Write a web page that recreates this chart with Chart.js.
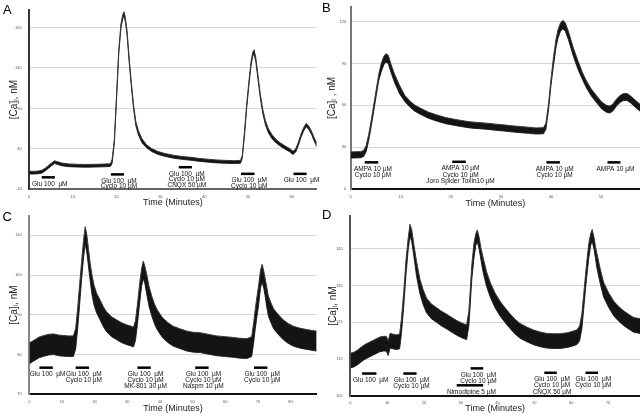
<!DOCTYPE html>
<html><head><meta charset="utf-8">
<script src="https://cdn.jsdelivr.net/npm/chart.js@4.4.1/dist/chart.umd.min.js"></script>
<style>
html,body{margin:0;padding:0;background:#fff;}
body{width:640px;height:417px;position:relative;overflow:hidden;font-family:"Liberation Sans",Arial,sans-serif;}
.pane{position:absolute;}
.letter{position:absolute;font-size:13px;line-height:13px;color:#000;z-index:2;font-family:"Liberation Sans",Arial,sans-serif;}
</style></head>
<body>
<canvas id="cA" class="pane" width="320" height="209" style="left:0;top:0"></canvas>
<canvas id="cB" class="pane" width="320" height="209" style="left:320px;top:0"></canvas>
<canvas id="cC" class="pane" width="320" height="209" style="left:0;top:206px"></canvas>
<canvas id="cD" class="pane" width="320" height="211" style="left:320px;top:206px"></canvas>
<div class="letter" style="left:3px;top:3.3px">A</div>
<div class="letter" style="left:322px;top:1.3px">B</div>
<div class="letter" style="left:2.5px;top:210.3px">C</div>
<div class="letter" style="left:322px;top:208.3px">D</div>
<script>
// ---------- DATA ----------
// Panel A
const timeA  = [0,1,2,2.8,3.6,4.4,5.2,5.8,6.5,7.5,9,11,13,15,17,18.6,19.0,19.5,20.0,20.5,21.0,21.4,21.7,22.0,22.4,22.9,23.4,23.9,24.4,25.0,25.8,26.8,28,29.5,31,33,35,37,39,41,43,45,47,48.3,48.7,49.2,49.7,50.2,50.7,51.1,51.4,51.8,52.3,52.8,53.4,54.0,54.7,55.5,56.5,57.5,58.5,59.5,60.3,60.9,61.5,62.1,62.7,63.3,63.9,64.5,65.1,65.7];
const caA    = [10.7,10.5,10.8,11.5,14,17.5,21,23.5,22.5,20.8,19.7,19.2,19,19.2,19.5,19.8,25,50,105,160,192,203,207,200,183,148,118,91,71,59.5,50,43.5,38.5,34.8,32.5,30.2,28.8,27.7,26.3,25.3,24.4,23.9,23.6,24,30,58,92,120,145,157,160,150,128,106,86,72,62,55,49,45,41.5,38.5,35,38,46,56,64,69.5,66,60,52,45];
const noiseA = [1.7,1.7,1.7,1.7,1.7,1.7,1.7,1.7,1.7,1.7,1.7,1.7,1.7,1.7,1.7,1.7,2.5,2.5,2.5,2.5,2.5,2.5,2.5,2.5,2.5,2.5,2.5,2.5,2.5,2.5,2.5,1.8,1.8,1.8,1.8,1.8,1.8,1.8,1.8,1.8,1.8,1.8,1.8,1.8,1.8,2.5,2.5,2.5,2.5,2.5,2.5,2.5,2.5,2.5,2.5,2.5,2.5,2.5,2,2,2,2,2,2,2,2,2,2,2,2,2,2];
const xTicksA = [0,10,20,30,40,50,60];
const yTicksA = [-10,40,90,140,190];
const drugStartA = [2.9,18.7,34.2,48.4,60.4];
const drugEndA   = [5.9,21.7,37.2,51.5,63.4];
const drugTextA  = [["Glu 100  µM"],["Glu 100  µM","Cyclo 10 µM"],["Glu 100  µM","Cyclo 10 µM","CNQX 50 µM"],["Glu 100  µM","Cyclo 10 µM"],["Glu 100  µM"]];

// Panel B
const timeB  = [0,1,2,2.6,3.1,3.6,4.1,4.6,5.1,5.6,6.1,6.6,7.0,7.5,8.1,8.8,9.8,10.8,11.8,12.8,13.8,15.5,17.1,19,20.5,22,23.8,25.5,27.2,29,30.5,32,33.9,35.5,37.1,38.5,39.0,39.5,40.0,40.5,41.0,41.4,41.9,42.4,42.9,43.5,44.0,44.5,45.5,46.3,47.1,48.1,49.1,50.1,51.1,51.8,52.4,53.1,53.8,54.5,55.2,55.9,56.6,57.8];
const caB    = [24.4,24.5,24.6,25.5,29,37,47,58,69,80,87,92,94,93,86,79,71,65,61,58,56,53,51,49,48,47,46,45.5,45,44.3,43.8,43.2,42.6,42.1,41.6,41.8,45,58,76,91,104,111,116,118,116,110,104,98,88,81,75,69,64.5,60,57.5,57,58.5,62,64.5,66,66,64.3,62,58.3];
const noiseB = [2.2,2.2,2.2,2.2,2.2,2.2,2.2,2.2,2.2,2.2,3,3,3,3,3,3,3,2.2,2.2,2.2,2.2,2.2,2.2,2.2,2.2,2.2,2.2,2.2,2.2,2.2,2.2,2.2,2.2,2.2,2.2,2.2,2.2,2.2,2.2,3,3,3,3,3,3,3,3,3,3,2.5,2.5,2.5,2.5,2.5,2.5,2.5,2.5,2.5,2.5,2.5,2.5,2.5,2.5,2.5];
const xTicksB = [0,10,20,30,40,50];
const yTicksB = [0,30,60,90,120];
const drugStartB = [2.8,20.3,39.1,51.3];
const drugEndB   = [5.5,23.0,41.8,53.9];
const drugTextB  = [["AMPA 10 µM","Cyclo 10 µM"],["AMPA 10 µM","Cyclo 10 µM","Joro Spider Toxin10 µM"],["AMPA 10 µM","Cyclo 10 µM"],["AMPA 10 µM"]];

// Panel C
const timeC  = [0,1,2,3,4.5,6,7.5,9,10.5,12,13.5,14.2,14.8,15.4,16.0,16.6,17.1,17.6,18.1,18.6,19.2,19.8,20.6,21.7,22.7,23.7,25.2,26.8,28.3,29.8,31.0,31.9,32.5,33.1,33.8,34.4,34.9,35.4,36.0,36.7,37.5,38.3,39.0,40.0,41.0,42.5,44.1,46.1,48.2,50.2,52.3,54.8,57.4,60,62.5,64.5,66.6,68.1,68.7,69.2,69.7,70.2,70.8,71.3,71.8,72.2,72.7,73.2,74.0,74.8,76.3,77.8,79.3,80.9,83,85,87,88];
const caC    = [80.3,80.8,81.3,81.8,82.2,82.5,82.6,82.3,82.2,82.1,82.1,84,89,95,101,106.5,110,108,104.5,101,97.5,95,93,91.2,89.5,88.2,87,86.2,85.5,85,84.7,84.4,86,90,95.5,99.5,101.3,100,97.5,94.5,92.2,90.3,89,87.7,86.6,85.5,84.6,84,83.4,83.1,83,82.6,82.2,82,81.8,81.6,81.5,82,85.5,89,92,94.8,99,100.5,98.8,97,94.5,92.2,90.5,89,87.5,86.2,85.3,84.6,84.1,83.8,83.5,83.4];
const noiseC = [2.6,2.6,2.6,2.6,2.6,2.6,2.6,2.6,2.6,2.6,2.6,2.6,2.6,2.6,2.2,2.2,2.2,2.2,2.2,2.2,2.5,2.5,2.5,2.5,2.5,2.5,2.5,2.5,2.5,2.5,2.5,2.5,2.5,2.5,2.5,2.2,2.2,2.2,2.5,2.5,2.5,2.5,2.5,2.5,2.5,2.5,2.5,2.5,2.5,2.5,2.5,2.5,2.5,2.5,2.5,2.5,2.5,2.5,2.5,2.5,2.5,2.5,2.2,2.2,2.2,2.2,2.5,2.5,2.5,2.5,2.5,2.5,2.5,2.5,2.5,2.5,2.5,2.5];
const xTicksC = [0,10,20,30,40,50,60,70,80];
const yTicksC = [70,80,90,100,110];
const drugStartC = [3.1,14.2,33.1,50.8,68.8];
const drugEndC   = [7.2,18.3,37.2,54.9,72.9];
const drugTextC  = [["Glu 100  µM"],["Glu 100  µM","Cyclo 10 µM"],["Glu 100  µM","Cyclo 10 µM","MK-801 30 µM"],["Glu 100  µM","Cyclo 10 µM","Naspm 10 µM"],["Glu 100  µM","Cyclo 10 µM"]];

// Panel D
const timeD  = [0,1,2,3,4,5,6,7,8,9,9.8,10.3,10.8,11.6,12.5,13.4,13.9,14.5,15.1,15.7,16.2,16.7,17.3,18.0,18.9,19.8,20.7,22,23.4,24.8,26.2,27.6,28.9,30.3,31.6,32.2,32.6,33.0,33.6,34.1,34.5,35.0,35.5,36.1,37.0,38.0,39.3,40.7,42,43.4,44.8,46.1,48,49.8,51.5,53.4,55,57,59,60.5,61.6,62.3,62.9,63.4,63.9,64.3,64.8,65.3,65.7,66.2,66.6,67.0,67.9,68.8,70.2,71.6,73,74.3,75.6,77,78.7];
const caD    = [114.6,114.9,115.5,116.3,117,117.5,118,118.5,119,119.2,119.2,118,120,119.8,119.6,119.8,124,131,139.5,146,150,148.5,144.3,139.5,134.8,131.8,129.6,128,127,126,125.2,124.3,123.5,122.8,122.3,126,132,138.5,144.5,147.5,148.5,146.5,143.5,140.5,136.8,133.9,131,128.7,127,125.3,123.8,122.7,121.7,120.9,120.4,120,119.9,119.9,120.2,120.6,121,122,125.2,130.5,136,140,144.5,147.5,148.6,146.5,144,141.7,137.5,133.9,131,128.7,127.2,126.1,125.2,124.3,124];
const noiseD = [2,2,2,2,2,2,2,2,2,2,2,2,2,2,2,2,2,2,2,1.6,1.6,1.6,1.6,2,2,2,2,2,2,2,2,2,2,2,2,2,2,2,2,1.6,1.6,1.6,1.6,2,2,2,2,2,2,2,2,2,2,2,2,2,2,2,2,2,2,2,2,2,2,2,2,1.6,1.6,1.6,1.6,2,2,2,2,2,2,2,2,2,2];
const xTicksD = [0,10,20,30,40,50,60,70];
const yTicksD = [105,115,125,135,145];
const drugStartD = [3.2,14.4,32.7,28.9,52.7,63.9];
const drugEndD   = [7.1,18.0,36.1,36.1,56.1,67.3];
const drugTextD  = [["Glu 100  µM"],["Glu 100  µM","Cyclo 10 µM"],["Glu 100  µM","Cyclo 10 µM"],["Nimodipine 5 µM"],["Glu 100  µM","Cyclo 10 µM","CNQX 50 µM"],["Glu 100  µM","Cyclo 10 µM"]];

// ---------- LAYOUT / STYLE ----------
const FONT = '"Liberation Sans", Arial, Helvetica, sans-serif';
Chart.defaults.font.family = FONT;

const panels = [
  {id:'cA', time:timeA, ca:caA, noise:noiseA, xTicks:xTicksA, yTicks:yTicksA,
   dStart:drugStartA, dEnd:drugEndA, dText:drugTextA, barLevel:[4.8,8.4,17.3,9.1,9.1],
   xMax:65.7, yMin:-10, yMax:212, yW:29, xH:19.7, padTop:0, padRight:3.3,
   yTickPad:7.3, xTickPad:5, yTitlePad:8, xTitlePad:0.6, lineGap:5.6,
   yAxisColor:'#333', xAxisColor:'#666', yTitle:'[Ca]ᵢ, nM'},
  {id:'cB', time:timeB, ca:caB, noise:noiseB, xTicks:xTicksB, yTicks:yTicksB,
   dStart:drugStartB, dEnd:drugEndB, dText:drugTextB, barLevel:[19.1,19.5,19.1,19.1],
   xMax:57.8, yMin:0, yMax:130.6, yW:30.7, xH:20, padTop:0, padRight:0,
   yTickPad:4.5, xTickPad:5, yTitlePad:6.5, xTitlePad:0.3, lineGap:6.3,
   yAxisColor:'#777', xAxisColor:'#111', yTitle:'[Ca]ᵢ , nM'},
  {id:'cC', time:timeC, ca:caC, noise:noiseC, xTicks:xTicksC, yTicks:yTicksC,
   dStart:drugStartC, dEnd:drugEndC, dText:drugTextC, barLevel:[76.7,76.7,76.7,76.7,76.7],
   xMax:88, yMin:70, yMax:114.9, yW:29.3, xH:20.7, padTop:0.7, padRight:3.3,
   yTickPad:7.5, xTickPad:5.3, yTitlePad:8, xTitlePad:0.9, lineGap:6.2,
   yAxisColor:'#888', xAxisColor:'#111', yTitle:'[Ca]ᵢ, nM'},
  {id:'cD', time:timeD, ca:caD, noise:noiseD, xTicks:xTicksD, yTicks:yTicksD,
   dStart:drugStartD, dEnd:drugEndD, dText:drugTextD, barLevel:[111.1,111.1,112.5,107.9,111.3,111.3],
   xMax:78.7, yMin:105, yMax:153.9, yW:30.3, xH:21, padTop:2, padRight:0,
   yTickPad:7.5, xTickPad:4.9, yTitlePad:7, xTitlePad:2.6, lineGap:6.2,
   yAxisColor:'#555', xAxisColor:'#111', yTitle:'[Ca]ᵢ, nM'}
];

function drugPlugin(p) {
  return {
    id: 'drugs_' + p.id,
    afterDatasetsDraw(chart) {
      const ctx = chart.ctx, xs = chart.scales.x, ys = chart.scales.y;
      ctx.save();
      ctx.font = '6.5px ' + FONT;
      ctx.textAlign = 'center';
      ctx.textBaseline = 'middle';
      p.dStart.forEach((s, i) => {
        const x0 = xs.getPixelForValue(s), x1 = xs.getPixelForValue(p.dEnd[i]);
        const yy = ys.getPixelForValue(p.barLevel[i]);
        ctx.strokeStyle = '#000';
        ctx.lineWidth = 2.5;
        ctx.lineCap = 'butt';
        ctx.beginPath(); ctx.moveTo(x0, yy); ctx.lineTo(x1, yy); ctx.stroke();
        ctx.fillStyle = '#111';
        p.dText[i].forEach((line, j) => {
          ctx.fillText(line, (x0 + x1) / 2 + 1.5, yy + 6.6 + j * p.lineGap);
        });
      });
      ctx.restore();
    }
  };
}

panels.forEach(p => {
  const upper = p.time.map((t, i) => ({x: t, y: p.ca[i] + p.noise[i]}));
  const lower = p.time.map((t, i) => ({x: t, y: p.ca[i] - p.noise[i]}));
  new Chart(document.getElementById(p.id), {
    type: 'line',
    data: {datasets: [
      {data: upper, borderColor: '#3a3a3a', borderWidth: 1, backgroundColor: '#141414', fill: '+1', pointRadius: 0, tension: 0},
      {data: lower, borderColor: '#3a3a3a', borderWidth: 1, backgroundColor: '#141414', fill: false, pointRadius: 0, tension: 0}
    ]},
    options: {
      responsive: false, animation: false, devicePixelRatio: 1,
      layout: {padding: {top: p.padTop, right: p.padRight, left: 0, bottom: 0}},
      plugins: {legend: {display: false}, tooltip: {enabled: false}},
      scales: {
        x: {
          type: 'linear', min: 0, max: p.xMax,
          afterBuildTicks: s => { s.ticks = p.xTicks.map(v => ({value: v})); },
          afterFit: s => { s.height = p.xH; },
          grid: {display: false, drawTicks: false},
          border: {color: p.xAxisColor, width: 2},
          ticks: {font: {size: 4}, color: '#555', padding: p.xTickPad, maxRotation: 0, autoSkip: false},
          title: {display: true, text: 'Time (Minutes)', font: {size: 9}, color: '#1a1a1a', padding: {top: 0, bottom: p.xTitlePad}}
        },
        y: {
          type: 'linear', min: p.yMin, max: p.yMax,
          afterBuildTicks: s => { s.ticks = p.yTicks.map(v => ({value: v})); },
          afterFit: s => { s.width = p.yW; },
          grid: {color: '#d6d6d6', lineWidth: 1, drawTicks: false},
          border: {color: p.yAxisColor, width: 2},
          ticks: {font: {size: 4}, color: '#555', padding: p.yTickPad, autoSkip: false},
          title: {display: true, text: p.yTitle, font: {size: 10}, color: '#1a1a1a', padding: {top: p.yTitlePad, bottom: 0}}
        }
      }
    },
    plugins: [drugPlugin(p)]
  });
});
</script>
</body></html>
